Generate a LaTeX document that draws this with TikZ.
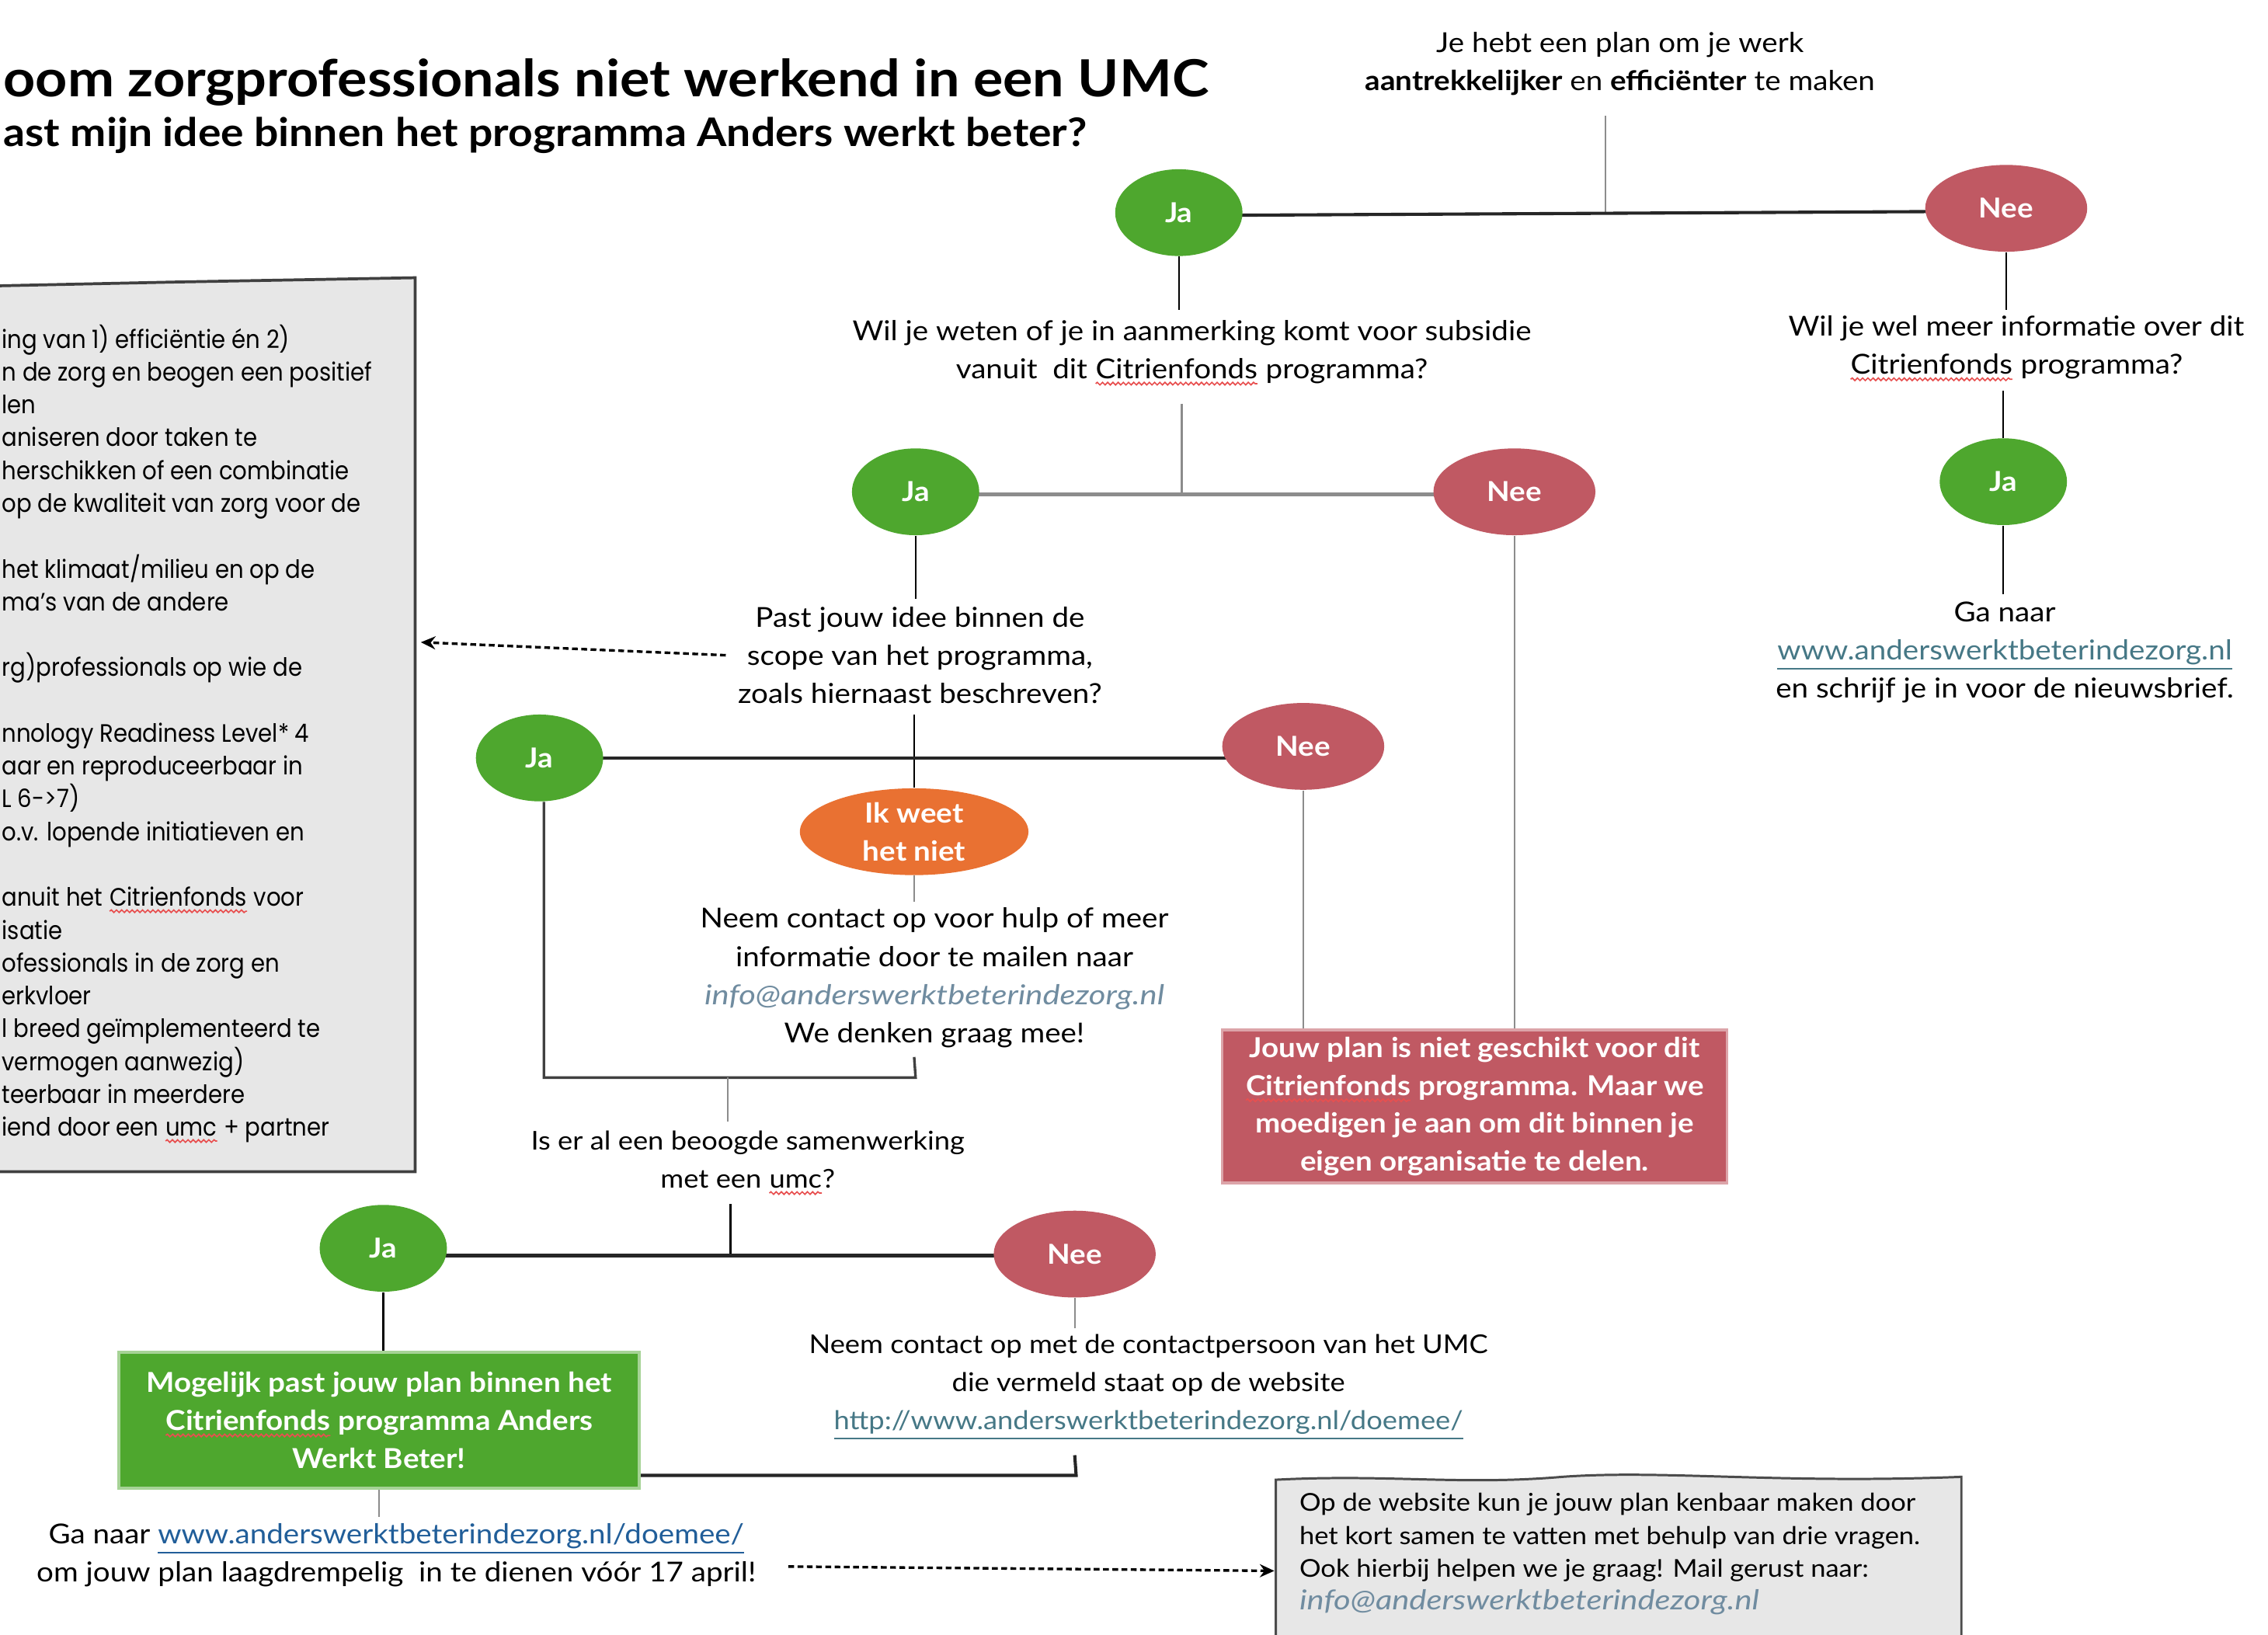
\documentclass[tikz,border=0pt]{standalone}
\usepackage{fontspec}
\setmainfont[FakeStretch=1.09]{Lato}
\newfontfamily\geofont[FakeStretch=0.9]{Poppins}
\newfontfamily\mailfont[FakeStretch=1.18]{Lato}
\usetikzlibrary{shapes.geometric,arrows.meta,decorations.pathmorphing}
\definecolor{jagreen}{RGB}{78,167,46}
\definecolor{neered}{RGB}{192,89,99}
\definecolor{ikorange}{RGB}{233,113,50}
\definecolor{boxgray}{RGB}{231,231,231}
\definecolor{linkblue}{RGB}{70,120,134}
\definecolor{linkdark}{RGB}{33,94,153}
\definecolor{mailblue}{RGB}{112,140,160}
\definecolor{lgray}{RGB}{140,140,140}
\definecolor{squigred}{RGB}{232,80,80}
\pgfdeclarelayer{bg}
\pgfsetlayers{bg,main}
\newcommand\mylink[2]{\textcolor{#1}{\underline{#2}}}
\newcommand\mymail{\textcolor{mailblue}{\mailfont\itshape info@anderswerktbeterindezorg.nl}}
\tikzset{
  squigword/.style={rectangle, draw=none, fill=none, inner sep=0pt, outer sep=0pt, minimum width=0pt, minimum height=0pt, anchor=base, align=left, line width=0pt},
  squigline/.style={draw=squigred, line width=0.45pt, decorate, decoration={snake,amplitude=0.45pt,segment length=1.8pt}}
}
\newcommand\squig[1]{\tikz[baseline=(sq.base)]{\node[squigword] (sq) at (0,0) {#1};\draw[squigline] ([yshift=-1.7pt]sq.base west) -- ([yshift=-1.7pt]sq.base east);}}
\tikzset{
  ellbase/.style={ellipse, inner sep=0pt, text=white, font=\fontsize{9.5}{13}\selectfont\bfseries},
  ja/.style={ellbase, fill=jagreen, minimum width=44pt, minimum height=30pt},
  nee/.style={ellbase, fill=neered, minimum width=56pt, minimum height=30pt},
  ikw/.style={ellbase, fill=ikorange, minimum width=79pt, minimum height=30pt, align=center},
  txt/.style={align=center, inner sep=0pt, font=\fontsize{9.5}{13.2}\selectfont},
  txtn/.style={align=center, inner sep=0pt, font=\fontsize{8.95}{13.2}\selectfont},
  thin/.style={draw=lgray, line width=0.6pt},
  thinb/.style={draw=black, line width=0.6pt},
  bar/.style={draw=black!85, line width=1.1pt},
  barg/.style={draw=lgray, line width=1.3pt},
  dasharrow/.style={draw=black, line width=0.9pt, dash pattern=on 2pt off 1.2pt, -{Stealth[length=5pt,width=4.5pt]}},
  resultbox/.style={rectangle, inner sep=0pt, align=center, text=white, font=\fontsize{9.5}{13.1}\selectfont\bfseries}
}
\begin{document}
\begin{tikzpicture}[x=0.5pt,y=-0.5pt]
\useasboundingbox (0,0) rectangle (1568,1130);
\clip (0,0) rectangle (1568,1130);
\begin{pgfonlayer}{bg}
\fill[white] (0,0) rectangle (1568,1130);
\end{pgfonlayer}

% titles
\node[anchor=base west, inner sep=0pt, font=\fontsize{17.7}{20}\selectfont\bfseries] (title) at (2,67) {oom zorgprofessionals niet werkend in een UMC};
\node[anchor=base west, inner sep=0pt, font=\fontsize{13.6}{16}\selectfont\bfseries] (subtitle) at (2,101) {ast mijn idee binnen het programma Anders werkt beter?};

% left grey box
\draw[fill=boxgray, draw=black!75, line width=1pt] (-20,198) -- (120,195) -- (287,192) -- (287,810) -- (-20,810) -- cycle;
\node[anchor=north west, inner sep=0pt, align=left, font=\geofont\fontsize{8.7}{11.35}\selectfont] (crit) at (1,224) {%
ing van 1) efficiëntie én 2)\\
n de zorg en beogen een positief\\
len\\
aniseren door taken te\\
herschikken of een combinatie\\
op de kwaliteit van zorg voor de\\
\mbox{}\\
het klimaat/milieu en op de\\
ma’s van de andere\\
\mbox{}\\
rg)professionals op wie de\\
\mbox{}\\
nnology Readiness Level* 4\\
aar en reproduceerbaar in\\
L 6->7)\\
o.v. lopende initiatieven en\\
\mbox{}\\
anuit het \squig{Citrienfonds} voor\\
isatie\\
ofessionals in de zorg en\\
erkvloer\\
l breed geïmplementeerd te\\
vermogen aanwezig)\\
teerbaar in meerdere\\
iend door een \squig{umc} + partner};
\coordinate (boxR) at (291,444);

% bottom right grey box
\draw[fill=boxgray, draw=black!70, line width=0.8pt] (882,1140) -- (882,1023) .. controls (960,1019) and (1010,1027) .. (1080,1021) .. controls (1150,1016) and (1230,1026) .. (1356,1021) -- (1356,1140) -- cycle;
\coordinate (wboxL) at (881,1086);
\node[anchor=north west, inner sep=0pt, align=left, font=\fontsize{8.5}{11.35}\selectfont] (webinfo) at (898,1032) {%
Op de website kun je jouw plan kenbaar maken door\\
het kort samen te vatten met behulp van drie vragen.\\
Ook hierbij helpen we je graag! Mail gerust naar:\\
{\fontsize{9.5}{11.35}\selectfont\mymail}};

% top question
\node[txt] (topq) at (1120,44) {Je hebt een plan om je werk\\\textbf{aantrekkelijker} en \textbf{efficiënter} te maken};
\node[ja] (ja1) at (815,147) {Ja};
\node[nee] (nee1) at (1387,144) {Nee};
\coordinate (j1) at (1110,148);
\coordinate (j1top) at (1110,80);

\node[txt] (q1) at (824,244) {Wil je weten of je in aanmerking komt voor subsidie\\vanuit\ \ dit \squig{Citrienfonds} programma?};
\node[ja] (ja2) at (633,340) {Ja};
\node[nee] (nee2) at (1047,340) {Nee};
\coordinate (j2) at (817,342);

\node[txt] (q3) at (1394,241) {Wil je wel meer informatie over dit\\\squig{Citrienfonds} programma?};
\node[ja] (ja3) at (1385,333) {Ja};
\node[txt] (ga3) at (1386,451) {Ga naar\\\mylink{linkblue}{www.anderswerktbeterindezorg.nl}\\en schrijf je in voor de nieuwsbrief.};

\node[txt] (scopeq) at (636,453) {Past jouw idee binnen de\\scope van het programma,\\zoals hiernaast beschreven?};
\node[ja] (ja4) at (373,524) {Ja};
\node[nee] (nee3) at (901,516) {Nee};
\node[ikw] (ik) at (632,575) {Ik weet\\het niet};

\node[txt] (mailq) at (646,676) {Neem contact op voor hulp of meer\\informatie door te mailen naar\\\mymail\\We denken graag mee!};

\node[resultbox, fill=neered, draw=neered!55!white, line width=1pt, minimum width=174.5pt, minimum height=53pt] (redbox) at (1019.5,765) {Jouw plan is niet geschikt voor dit\\\squig{Citrienfonds} programma. Maar we\\moedigen je aan om dit binnen je\\eigen organisatie te delen.};

\node[txtn] (umcq) at (517,804) {Is er al een beoogde samenwerking\\met een \squig{umc}?};
\node[ja] (ja5) at (265,863) {Ja};
\node[nee] (nee4) at (743,867) {Nee};
\coordinate (j5) at (505,868);

\node[resultbox, fill=jagreen, draw=jagreen!50!white, line width=1pt, minimum width=180pt, minimum height=47pt] (greenbox) at (262,982) {Mogelijk past jouw plan binnen het\\\squig{Citrienfonds} programma Anders\\Werkt Beter!};

\node[txtn] (contactq) at (794,959) {Neem contact op met de contactpersoon van het UMC\\die vermeld staat op de website\\\mylink{linkblue}{http://www.anderswerktbeterindezorg.nl/doemee/}};

\node[txt] (gaq) at (274,1075) {Ga naar \mylink{linkdark}{www.anderswerktbeterindezorg.nl/doemee/}\\om jouw plan laagdrempelig\ \ in te dienen vóór 17 april!};

% connectors (behind the nodes)
\begin{pgfonlayer}{bg}
\draw[thin] (j1top) -- (j1);
\draw[bar] ([yshift=-1pt]ja1.center) -- ([yshift=-1pt]nee1.center);
\draw[thinb] (ja1.south) -- ([yshift=3.5pt]q1.north -| ja1.south);
\draw[thin] ([yshift=-6pt]q1.south -| j2) -- (j2);
\draw[barg] (ja2 |- j2) -- (nee2 |- j2);
\draw[thinb] (nee1.south) -- ([yshift=2pt]q3.north -| nee1.south);
\draw[thinb] ([yshift=-3pt]q3.south -| ja3.north) -- (ja3.north);
\draw[thinb] (ja3.south) -- ([yshift=2.5pt]ga3.north -| ja3.south);
\draw[thinb] (ja2.south) -- ([yshift=2.5pt]scopeq.north -| ja2.south);
\draw[thinb] ([yshift=-3.5pt]scopeq.south -| ik.north) -- (ik.north);
\draw[bar] (ja4.center) -- (ja4.center -| nee3.center);
\draw[thin] (ik.south) -- ([yshift=2pt]mailq.north -| ik.south);
\draw[draw=black!75, line width=0.9pt] ([yshift=-3pt]mailq.south -| ik.south) -- (633,745) -- (376,745) -- (ja4.south -| 376,0);
\draw[thin] (503,745) -- ([yshift=3pt]umcq.north -| 503,0);
\draw[thin] (nee3.south) -- (nee3.south |- redbox.north);
\draw[thin] (nee2.south) -- (nee2.south |- redbox.north);
\draw[thinb] ([yshift=-3pt]umcq.south -| j5) -- (j5);
\draw[bar] (ja5.center |- j5) -- (nee4.center |- j5);
\draw[thinb] (ja5.south) -- (ja5.south |- greenbox.north);
\draw[thin] (nee4.south) -- ([yshift=2pt]contactq.north -| nee4.south);
\draw[bar] ([yshift=-5pt]contactq.south -| nee4.south) -- (744,1020) -- (greenbox.east |- 0,1020);
\draw[thin] (greenbox.south) -- ([yshift=2pt]gaq.north -| greenbox.south);
\end{pgfonlayer}
\draw[dasharrow] ([xshift=-4pt]scopeq.west) -- (boxR);
\draw[dasharrow] (545,1083) -- (wboxL);
\end{tikzpicture}
\end{document}
